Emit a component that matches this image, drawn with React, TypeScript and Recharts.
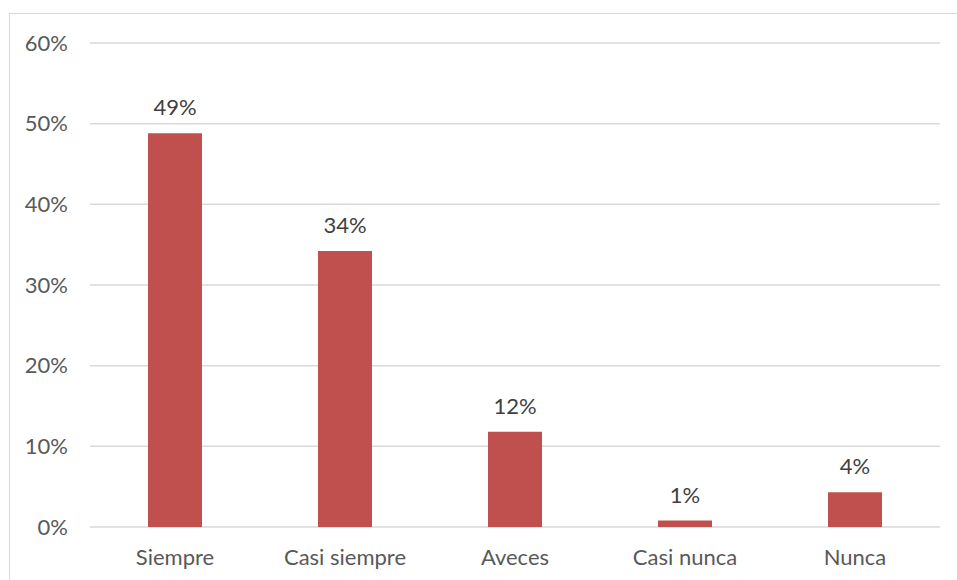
import { Bar, BarChart, CartesianGrid, LabelList, XAxis, YAxis } from 'recharts';

const categories = ['Siempre', 'Casi siempre', 'Aveces', 'Casi nunca', 'Nunca'];
const percentages = [48.8, 34.2, 11.8, 0.8, 4.3];
const yTicks = [0, 10, 20, 30, 40, 50, 60];

const data = categories.map((name, i) => ({ name, value: percentages[i] }));

const font = 'Lato, "Open Sans", sans-serif';
const tickStyle = { fontSize: 22, fill: '#595959', fontFamily: font };

export default function App() {
  return (
    <div
      style={{
        position: 'absolute',
        left: 0,
        top: 0,
        width: 957,
        height: 580,
        overflow: 'hidden',
        background: '#fff',
      }}
    >
      {/* chart frame, runs off the right and bottom edges */}
      <div
        style={{
          position: 'absolute',
          left: 9,
          top: 13,
          width: 1000,
          height: 700,
          border: '1px solid #d9d9d9',
        }}
      />
      <div style={{ position: 'absolute', left: 0, top: 0 }}>
        <BarChart width={957} height={580} data={data} margin={{ top: 43, right: 17, left: 0, bottom: 0 }}>
          <CartesianGrid vertical={false} stroke="#d9d9d9" strokeWidth={1.5} />
          <XAxis
            dataKey="name"
            axisLine={false}
            tickLine={false}
            tick={tickStyle}
            tickMargin={16}
            height={53}
            interval={0}
          />
          <YAxis
            domain={[0, 60]}
            ticks={yTicks}
            axisLine={false}
            tickLine={false}
            tick={tickStyle}
            tickMargin={16}
            width={90}
            tickFormatter={(v) => `${v}%`}
          />
          <Bar dataKey="value" fill="#c0504d" barSize={54} isAnimationActive={false}>
            <LabelList
              dataKey="value"
              position="top"
              offset={18}
              formatter={(v: number) => `${Math.round(v)}%`}
              style={{ fontSize: 22, fill: '#404040', fontFamily: font }}
            />
          </Bar>
        </BarChart>
      </div>
    </div>
  );
}
